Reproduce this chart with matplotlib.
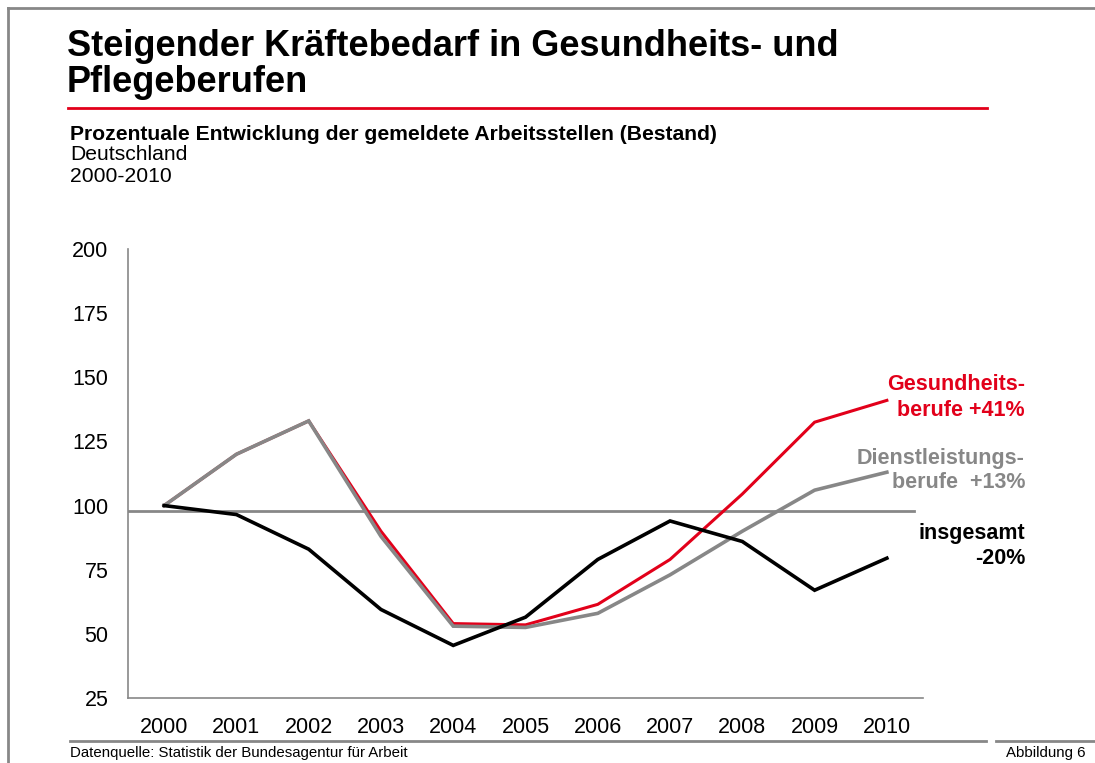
import matplotlib
matplotlib.use("Agg")
import matplotlib.pyplot as plt
from matplotlib.lines import Line2D

plt.rcParams['font.family'] = ['Liberation Sans', 'DejaVu Sans']

years = ['2000', '2001', '2002', '2003', '2004', '2005', '2006', '2007', '2008', '2009', '2010']
gesundheit = [100, 120, 133, 90, 54, 53.5, 61.5, 79, 104.5, 132.5, 141]
dienstleistung = [100, 120, 133, 88, 53, 52.5, 58, 73, 90, 106, 113]
insgesamt = [100, 96.5, 83, 59.5, 45.5, 56.5, 79, 94, 86, 67, 79.5]
yticks = [25, 50, 75, 100, 125, 150, 175, 200]
ref_value = 97.7

RED = '#e2001a'
GRAY = '#878787'
BLACK = '#000000'

W, H = 1095, 763
fig = plt.figure(figsize=(W / 100, H / 100), dpi=100)

def fx(px):
    return px / W

def fy(py):
    return 1 - py / H

ax = fig.add_axes([fx(128), fy(698), fx(923) - fx(128), fy(249) - fy(698)])
x = list(range(len(years)))

ax.plot([-0.5, 10.38], [ref_value, ref_value], color=GRAY, lw=2, zorder=1)
ax.plot(x, dienstleistung, color=GRAY, lw=2.6, zorder=3, solid_joinstyle='miter')
ax.plot(x, gesundheit, color=RED, lw=2.2, zorder=2, solid_joinstyle='miter')
ax.plot(x, insgesamt, color=BLACK, lw=2.6, zorder=4, solid_joinstyle='miter')

ax.set_xlim(-0.5, 10.5)
ax.set_ylim(25, 200)
ax.set_xticks(x)
ax.set_xticklabels(years)
ax.set_yticks(yticks)
ax.tick_params(axis='both', length=0, labelsize=15.5)
ax.tick_params(axis='y', pad=14)
ax.tick_params(axis='x', pad=14)
for s in ['top', 'right']:
    ax.spines[s].set_visible(False)
for s in ['left', 'bottom']:
    ax.spines[s].set_color(GRAY)
    ax.spines[s].set_linewidth(1.2)

# annotations (outside right)
fs = 15.5
fig.text(fx(1025), fy(385), 'Gesundheits-', color=RED, fontsize=fs, fontweight='bold', ha='right', va='center')
fig.text(fx(1025), fy(410), 'berufe +41%', color=RED, fontsize=fs, fontweight='bold', ha='right', va='center')
fig.text(fx(1025), fy(458), 'Dienstleistungs-', color=GRAY, fontsize=fs, fontweight='bold', ha='right', va='center')
fig.text(fx(1025), fy(483), 'berufe  +13%', color=GRAY, fontsize=fs, fontweight='bold', ha='right', va='center')
fig.text(fx(1025), fy(533), 'insgesamt', color=BLACK, fontsize=fs, fontweight='bold', ha='right', va='center')
fig.text(fx(1025), fy(559), '-20%', color=BLACK, fontsize=fs, fontweight='bold', ha='right', va='center')

# title block
fig.text(fx(67), fy(47), 'Steigender Kräftebedarf in Gesundheits- und', fontsize=26, fontweight='bold', ha='left', va='center')
fig.text(fx(67), fy(83), 'Pflegeberufen', fontsize=26, fontweight='bold', ha='left', va='center')
fig.add_artist(Line2D([fx(68), fx(987)], [fy(108), fy(108)], color=RED, lw=2))
fig.text(fx(70), fy(134), 'Prozentuale Entwicklung der gemeldete Arbeitsstellen (Bestand)', fontsize=15.2, fontweight='bold', ha='left', va='center')
fig.text(fx(70), fy(155), 'Deutschland', fontsize=15.2, ha='left', va='center')
fig.text(fx(70), fy(177), '2000-2010', fontsize=15.2, ha='left', va='center')

# footer
fig.add_artist(Line2D([fx(70), fx(986)], [fy(741), fy(741)], color=GRAY, lw=2))
fig.add_artist(Line2D([fx(996), fx(1095)], [fy(741), fy(741)], color=GRAY, lw=2))
fig.text(fx(70), fy(753), 'Datenquelle: Statistik der Bundesagentur für Arbeit', fontsize=10.8, ha='left', va='center')
fig.text(fx(1086), fy(753), 'Abbildung 6', fontsize=10.8, ha='right', va='center')

# frame
fig.add_artist(Line2D([fx(8), fx(1095)], [fy(8), fy(8)], color=GRAY, lw=2))
fig.add_artist(Line2D([fx(8), fx(8)], [fy(8), fy(763)], color=GRAY, lw=2))

fig.savefig('out.png', dpi=100)
